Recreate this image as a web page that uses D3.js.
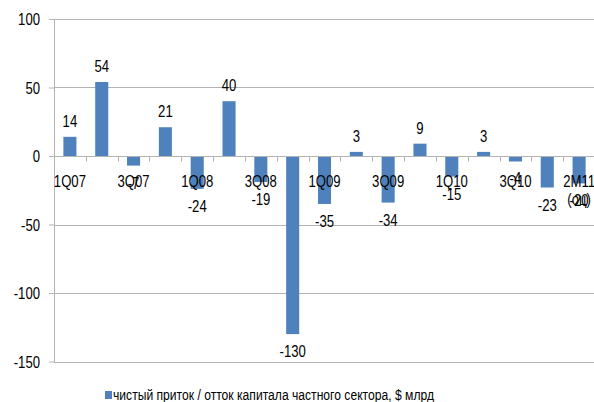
<!DOCTYPE html>
<html>
<head>
<meta charset="utf-8">
<script src="https://cdn.jsdelivr.net/npm/d3@7"></script>
<style>
    body { margin: 0; background: #fff; }
    text { font-family: "Liberation Sans", Arial, sans-serif; fill: #000; }
</style>
</head>
<body>
<div id="chart"></div>
<script>

// quarters (every other one gets a label)
var categories = ["1Q07", "2Q07", "3Q07", "4Q07", "1Q08", "2Q08", "3Q08", "4Q08",
                  "1Q09", "2Q09", "3Q09", "4Q09", "1Q10", "2Q10", "3Q10", "4Q10", "2M11"];
var tickLabels = ["1Q07", "3Q07", "1Q08", "3Q08", "1Q09", "3Q09", "1Q10", "3Q10", "2M11"];
var values = [14, 54, -7, 21, -24, 40, -19, -130, -35, 3, -34, 9, -15, 3, -4, -23, -20];
var yTicks = [100, 50, 0, -50, -100, -150];
var seriesName = "чистый приток / отток капитала частного сектора, $ млрд";

window.onload = function(){
    drawBar();
};

// text in the source is a bit squeezed sideways, so scale x only
function squeezed(sel, x, y){
    return sel.attr("transform", "translate(" + x + "," + y + ") scale(0.82,1)")
              .style("font-size", "16px");
}

function drawBar(){
    var svg = d3.select("#chart").append("svg").attr("width", 594).attr("height", 402);

    var left = 54, right = 595, top = 19, bottom = 361.5;
    var grey = "#b3b3b3";

    var xScale = d3.scaleBand()
                   .domain(categories)
                   .range([left, right])
                   .paddingInner(0.59)
                   .paddingOuter(0.295);

    var yScale = d3.scaleLinear()
                   .domain([-150, 100])
                   .range([bottom, top]);

    // y axis line + small outside ticks
    var yAxis = svg.append("g")
        .attr("transform", "translate(" + left + ",0)")
        .call(d3.axisLeft(yScale).tickValues(yTicks).tickSize(5).tickSizeOuter(0)
              .tickFormat(""));
    yAxis.select(".domain").attr("stroke", grey);
    yAxis.selectAll(".tick line").attr("stroke", grey);

    // y labels
    svg.append("g").selectAll("text")
        .data(yTicks)
        .enter()
        .append("text")
        .style("text-anchor", "end")
        .each(function(d){ squeezed(d3.select(this), 40, yScale(d) + 6); })
        .text(function(d){ return d; });

    // gridlines
    svg.append("g").selectAll("line")
        .data(yTicks.filter(function(d){ return d !== 0; }))
        .enter()
        .append("line")
        .attr("x1", left)
        .attr("x2", 594)
        .attr("y1", function(d){ return Math.round(yScale(d)) + 0.5; })
        .attr("y2", function(d){ return Math.round(yScale(d)) + 0.5; })
        .attr("stroke", grey);

    // bars
    svg.selectAll(".bar")
        .data(values)
        .enter()
        .append("rect")
        .attr("class", "bar")
        .attr("x", function(d, i){ return xScale(categories[i]); })
        .attr("width", xScale.bandwidth())
        .attr("y", function(d){ return yScale(Math.max(d, 0)); })
        .attr("height", function(d){ return Math.abs(yScale(d) - yScale(0)); })
        .attr("fill", "#4f81bd");

    // x axis on the zero line, ticks between categories
    var step = xScale.step();
    var zeroY = Math.round(yScale(0)) + 0.5;
    svg.append("line")
        .attr("x1", left).attr("x2", 594)
        .attr("y1", zeroY).attr("y2", zeroY)
        .attr("stroke", grey);
    svg.append("g").selectAll("line")
        .data(categories.slice(1))
        .enter()
        .append("line")
        .attr("x1", function(d){ return Math.round(xScale(d) - xScale.paddingInner() * step / 2) + 0.5; })
        .attr("x2", function(d){ return Math.round(xScale(d) - xScale.paddingInner() * step / 2) + 0.5; })
        .attr("y1", zeroY)
        .attr("y2", zeroY + 5)
        .attr("stroke", grey);

    // category labels
    svg.append("g").selectAll("text")
        .data(tickLabels)
        .enter()
        .append("text")
        .style("text-anchor", "middle")
        .each(function(d){ squeezed(d3.select(this), xScale(d) + xScale.bandwidth() / 2, 187); })
        .text(function(d){ return d; });
    squeezed(svg.append("text"), xScale("2M11") + xScale.bandwidth() / 2, 205)
        .style("text-anchor", "middle")
        .text("(оц)");

    // data labels
    svg.append("g").selectAll("text")
        .data(values)
        .enter()
        .append("text")
        .style("text-anchor", "middle")
        .each(function(d, i){
            var x = xScale(categories[i]) + xScale.bandwidth() / 2;
            var y = d >= 0 ? yScale(d) - 10 : yScale(d) + 23;
            squeezed(d3.select(this), x, y);
        })
        .text(function(d){ return d; });

    // legend
    svg.append("rect")
        .attr("x", 105).attr("y", 391)
        .attr("width", 7).attr("height", 8)
        .attr("fill", "#4f81bd");
    svg.append("text")
        .attr("x", 113)
        .attr("y", 400)
        .attr("textLength", 321)
        .attr("lengthAdjust", "spacingAndGlyphs")
        .style("font-size", "14px")
        .text(seriesName);
}
</script>
</body>
</html>
